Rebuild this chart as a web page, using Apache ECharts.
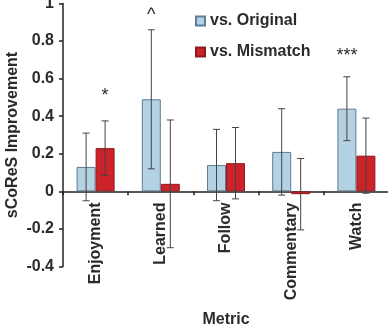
<!DOCTYPE html>
<html>
<head>
<meta charset="UTF-8">
<title>sCoReS Improvement</title>
<style type="text/css">
  body { margin: 0; background: #fff; }
  #chart { width: 388px; height: 326px; }
</style>
<script src="https://cdn.jsdelivr.net/npm/echarts@6/dist/echarts.min.js"></script>
</head>
<body>
<div id="chart"></div>
<script type="text/javascript">
// data
var categories = ['Enjoyment', 'Learned', 'Follow', 'Commentary', 'Watch'];
var vsOriginal = [0.13, 0.49, 0.14, 0.21, 0.44];
var vsOriginalErr = [0.18, 0.37, 0.19, 0.23, 0.17];
var vsMismatch = [0.23, 0.04, 0.15, -0.015, 0.19];
var vsMismatchErr = [0.145, 0.34, 0.19, 0.19, 0.2];
// significance marks: [category, y value, text]
var origMarks = [['Learned', 0.94, '^'], ['Watch', 0.72, '***']];
var mismatchMarks = [['Enjoyment', 0.51, '*']];
var yMin = -0.4, yMax = 1, yStep = 0.2;

var FONT = '"Liberation Sans", Arial, sans-serif';
var TXT = '#2b2b2b';
var BAR_W = 19;

function errData(vals, errs) {
    var out = [];
    for (var i = 0; i < vals.length; i++) out.push([i, vals[i], errs[i]]);
    return out;
}
function markData(list) {
    return list.map(function (m) {
        return { coord: [m[0], m[1]], value: m[2] };
    });
}
// error bars drawn at the bar centre (offset = -1 left bar, +1 right bar)
function errRenderer(side) {
    return function (params, api) {
        var i = api.value(0), v = api.value(1), e = api.value(2);
        var top = api.coord([i, v + e]);
        var bot = api.coord([i, v - e]);
        var x = top[0] + side * BAR_W / 2;
        var cap = 3.5;
        var st = { stroke: '#444', lineWidth: 1 };
        return {
            type: 'group',
            children: [
                { type: 'line', shape: { x1: x, y1: top[1], x2: x, y2: bot[1] }, style: st },
                { type: 'line', shape: { x1: x - cap, y1: top[1], x2: x + cap, y2: top[1] }, style: st },
                { type: 'line', shape: { x1: x - cap, y1: bot[1], x2: x + cap, y2: bot[1] }, style: st }
            ]
        };
    };
}
var markStyle = {
    symbol: 'circle',
    symbolSize: 0,
    label: { show: true, position: 'inside', formatter: '{c}', color: TXT, fontFamily: FONT, fontSize: 18 }
};

var chart = echarts.init(document.getElementById('chart'));
var option = {
    animation: false,
    textStyle: { fontFamily: FONT },
    grid: { left: 63, right: -1, top: 3.5, bottom: 59.5, containLabel: false, outerBoundsMode: 'none' },
    legend: {
        orient: 'vertical',
        left: 190,
        top: 8,
        itemWidth: 9,
        itemHeight: 9,
        itemGap: 15,
        icon: 'rect',
        textStyle: { color: TXT, fontSize: 16, fontWeight: 'bold', fontFamily: FONT },
        data: ['vs. Original', 'vs. Mismatch']
    },
    xAxis: {
        type: 'category',
        data: categories,
        name: 'Metric',
        nameLocation: 'middle',
        nameGap: 45,
        nameMoveOverlap: false,
        nameTextStyle: { color: TXT, fontSize: 16, fontWeight: 'bold', fontFamily: FONT },
        axisLine: { onZero: true, lineStyle: { color: '#222', width: 1.5 } },
        axisTick: { show: true, length: 4, lineStyle: { color: '#222', width: 1.5 } },
        axisLabel: { rotate: 90, margin: -64, color: TXT, fontSize: 16, fontWeight: 'bold', fontFamily: FONT }
    },
    yAxis: {
        type: 'value',
        min: yMin,
        max: yMax,
        interval: yStep,
        name: 'sCoReS Improvement',
        nameLocation: 'middle',
        nameGap: 42,
        nameMoveOverlap: false,
        nameTextStyle: { color: TXT, fontSize: 16, fontWeight: 'bold', fontFamily: FONT },
        splitLine: { show: false },
        axisLine: { show: true, lineStyle: { color: '#222', width: 1.5 } },
        axisTick: { show: true, length: 4, lineStyle: { color: '#222', width: 1.5 } },
        axisLabel: {
            margin: 9, color: TXT, fontSize: 16, fontWeight: 'bold', fontFamily: FONT,
            formatter: function (v) { return String(Math.round(v * 10) / 10); }
        }
    },
    series: [
        {
            name: 'vs. Original',
            type: 'bar',
            data: vsOriginal,
            barWidth: BAR_W,
            barGap: '0%',
            itemStyle: { color: '#b5d1e4', borderColor: '#5f7d92', borderWidth: 1 },
            markPoint: Object.assign({ data: markData(origMarks) }, markStyle)
        },
        {
            name: 'vs. Mismatch',
            type: 'bar',
            data: vsMismatch,
            barWidth: BAR_W,
            barGap: '0%',
            itemStyle: { color: '#cc2229', borderColor: '#8e1a1e', borderWidth: 1 },
            markPoint: Object.assign({ data: markData(mismatchMarks) }, markStyle)
        },
        {
            type: 'custom',
            data: errData(vsOriginal, vsOriginalErr),
            renderItem: errRenderer(-1),
            z: 5,
            silent: true
        },
        {
            type: 'custom',
            data: errData(vsMismatch, vsMismatchErr),
            renderItem: errRenderer(1),
            z: 5,
            silent: true
        }
    ]
};
chart.setOption(option);
</script>
</body>
</html>
